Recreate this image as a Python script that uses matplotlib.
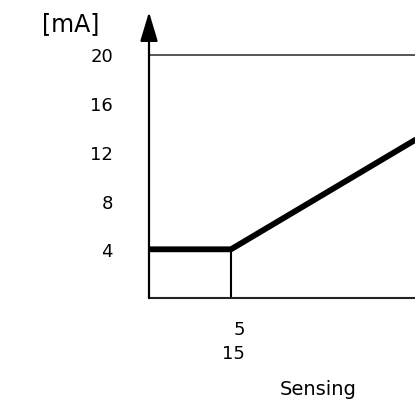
import matplotlib
matplotlib.use("Agg")
import matplotlib.pyplot as plt

# output current vs sensing (schematic)
curve_x = [0, 5, 25]
curve_ma = [4, 4, 20]
y_ticks = [4, 8, 12, 16, 20]
y_tick_labels = ["4", "8", "12", "16", "20"]
x_tick = 5
x_tick_label = "5\n15"
full_scale = 20

plt.rcParams['font.family'] = ['DejaVu Sans']

W, H = 415, 402
fig = plt.figure(figsize=(W / 100, H / 100), dpi=100)
ax = fig.add_axes([149 / W, 103 / H, (W - 149) / W, (299 - 13) / H])

px_x = 16.4      # pixels per sensing unit
px_y = 12.175    # pixels per mA
ax.set_xlim(0, (W - 149) / px_x)
ax.set_ylim(0, (299 - 13) / px_y)

# thin helper lines
ax.axhline(full_scale, color='#555555', lw=1.4, zorder=1)
ax.plot([curve_x[1], curve_x[1]], [0, curve_ma[1]], color='black', lw=1.5, zorder=2)

# main curve
ax.plot(curve_x, curve_ma, color='black', lw=4.2, solid_capstyle='butt',
        solid_joinstyle='miter', zorder=3)

# axes styling
for s in ['top', 'right', 'left']:
    ax.spines[s].set_visible(False)
ax.spines['bottom'].set_color('#222222')
ax.spines['bottom'].set_linewidth(1.5)

# y axis with arrow
ymax = ax.get_ylim()[1]
ax.annotate('', xy=(0, ymax), xytext=(0, 0), xycoords='data',
            arrowprops=dict(arrowstyle='-|>,head_length=1.5,head_width=0.45',
                            mutation_scale=12, lw=1.6, color='black',
                            shrinkA=0, shrinkB=0),
            annotation_clip=False)

ax.set_yticks(y_ticks)
ax.set_yticklabels(y_tick_labels, fontsize=13)
ax.tick_params(axis='y', length=0, pad=26)

ax.set_xticks([])
ax.annotate(x_tick_label, xy=(x_tick, 0), xycoords='data',
            xytext=(14, -22), textcoords='offset pixels',
            ha='right', va='top', multialignment='right',
            fontsize=13, linespacing=1.45, annotation_clip=False)

fig.text(318 / W, 1 - 390 / H, "Sensing", fontsize=14, ha='center', va='center')
fig.text(71 / W, 1 - 24 / H, "[mA]", fontsize=17, ha='center', va='center')

fig.savefig("out.png", dpi=100)
